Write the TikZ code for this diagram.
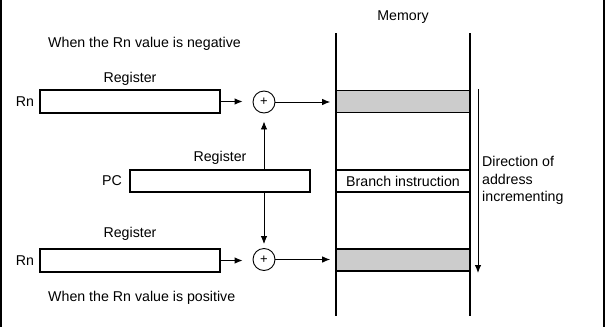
\documentclass[tikz,border=0pt]{standalone}
\usepackage{fontspec}
\setmainfont{Liberation Sans}
\usetikzlibrary{arrows.meta}
\definecolor{cellgray}{RGB}{204,204,204}
\begin{document}
\begin{tikzpicture}[x=1pt,y=-1pt,
  lbl/.style={font=\fontsize{14.2}{17.5}\selectfont, inner sep=0pt},
  regbox/.style={draw, line width=1.7pt, minimum width=180pt, minimum height=23pt, inner sep=0pt},
  cell/.style={draw, line width=1.7pt, minimum width=134pt, minimum height=22pt, inner sep=0pt},
  adder/.style={draw, circle, line width=0.9pt, minimum size=22pt, inner sep=0pt,
                font=\fontsize{13}{13}\selectfont},
  arr/.style={line width=0.9pt, -{Latex[length=8pt,width=6.5pt]}},
  edge/.style={line width=1.5pt},
]
\useasboundingbox (0,0) rectangle (605,327);

% side rules
\coordinate (lTop) at (0.75,0);   \coordinate (lBot) at (0.75,327);
\coordinate (rTop) at (603.8,0);  \coordinate (rBot) at (603.8,327);
\draw[edge] (lTop) -- (lBot);
\draw[edge] (rTop) -- (rBot);

% memory column
\node[lbl] (memlbl) at (403,17) {Memory};
\node[cell, fill=cellgray] (cellA) at (403,101.5) {};
\node[cell] (branch) at (403,181) {\fontsize{14.2}{17}\selectfont Branch instruction};
\node[cell, fill=cellgray] (cellB) at (403,260) {};
\coordinate (mTL) at (336,33);  \coordinate (mBL) at (336,316);
\coordinate (mTR) at (470,33);  \coordinate (mBR) at (470,316);
\draw[line width=1.7pt] (mTL) -- (mBL);
\draw[line width=1.7pt] (mTR) -- (mBR);

% direction of address incrementing
\coordinate (dirTop) at (478,89);
\coordinate (dirBot) at (478,273);
\draw[arr] (dirTop) -- (dirBot);
\node[lbl, anchor=west, align=left] (dirlbl) at (482,180.5)
  {Direction of\\address\\incrementing};

% negative offset row
\node[lbl, anchor=west] (neglbl) at (48,44) {When the Rn value is negative};
\node[lbl] (regAlbl) at (130,79) {Register};
\node[lbl] (rnA) at (25,101.5) {Rn};
\node[regbox] (regA) at (130,101.5) {};
\node[adder] (sumA) at (264,102) {+};

% program counter
\node[lbl] (pclbl) at (220,158) {Register};
\node[lbl] (pcname) at (112,181) {PC};
\node[regbox, minimum width=180pt, minimum height=22pt] (pc) at (220,181) {};

% positive offset row
\node[lbl] (regBlbl) at (130,234) {Register};
\node[lbl] (rnB) at (25,260.5) {Rn};
\node[regbox] (regB) at (130,260.5) {};
\node[adder] (sumB) at (264,259.5) {+};
\node[lbl, anchor=west] (poslbl) at (48,297.5) {When the Rn value is positive};

% connectors
\draw[arr, shorten >=10pt] (regA.east) -- (regA.east -| sumA.west);
\draw[arr, shorten >=5pt] (sumA.east) -- (sumA.east -| cellA.west);
\draw[arr, shorten >=8pt] (pc.north -| sumA) -- (sumA.south);
\draw[arr, shorten >=4pt] (pc.south -| sumB) -- (sumB.north);
\draw[arr, shorten >=10pt] (regB.east) -- (regB.east -| sumB.west);
\draw[arr, shorten >=5pt] (sumB.east) -- (sumB.east -| cellB.west);
\end{tikzpicture}
\end{document}
